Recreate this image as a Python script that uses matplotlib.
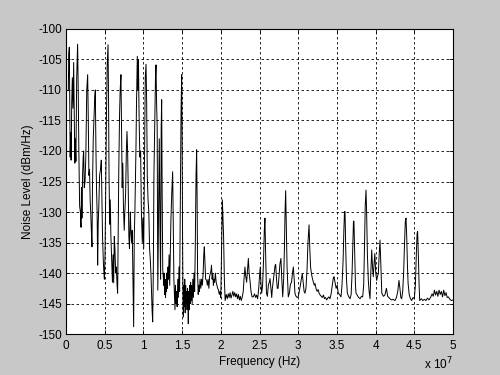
import numpy as np
import matplotlib
matplotlib.use('Agg')
import matplotlib.pyplot as plt
from matplotlib.ticker import FuncFormatter, MultipleLocator

# Спектр шума: частота в единицах 1e7 Гц, уровень в дБм/Гц
# участок 1: 0 ... 1.0
freq_1 = [0.030, 0.036, 0.043, 0.048, 0.054, 0.060, 0.066, 0.074, 0.082, 0.090,
          0.099, 0.106, 0.114, 0.120, 0.128, 0.138, 0.150, 0.158, 0.166, 0.176,
          0.186, 0.194, 0.200, 0.206, 0.214, 0.222, 0.228, 0.236, 0.246, 0.256,
          0.268, 0.280, 0.288, 0.296, 0.304, 0.312, 0.322, 0.330, 0.336, 0.342,
          0.352, 0.364, 0.372, 0.379, 0.386, 0.394, 0.402, 0.409, 0.416, 0.424,
          0.434, 0.446, 0.456, 0.464, 0.472, 0.482, 0.490, 0.496, 0.504, 0.512,
          0.522, 0.532, 0.543, 0.550, 0.556, 0.564, 0.572, 0.580, 0.590, 0.600,
          0.608, 0.616, 0.624, 0.632, 0.642, 0.650, 0.660, 0.667, 0.674, 0.682,
          0.692, 0.700, 0.710, 0.718, 0.726, 0.734, 0.742, 0.752, 0.760, 0.770,
          0.780, 0.788, 0.796, 0.804, 0.812, 0.820, 0.831, 0.838, 0.848, 0.856,
          0.866, 0.874, 0.882, 0.890, 0.898, 0.904, 0.910, 0.921, 0.928, 0.936,
          0.944, 0.954, 0.964, 0.974, 0.986, 0.994, 1.004]
level_1 = [-110, -104, -103, -112, -121, -117, -121.5, -112, -108, -113,
           -105.5, -114, -122, -118, -121.7, -108, -102.5, -110, -120, -129,
           -130, -132.5, -126, -131, -124, -121, -120, -126, -125, -121,
           -110, -107.5, -115, -124, -123, -128, -131, -134, -135.7, -126,
           -118, -114, -111, -110, -119, -126, -130, -138.7, -132, -129,
           -124, -123, -121.5, -128, -134, -138, -140, -141, -137, -128,
           -115, -106, -102.6, -112, -124, -132, -128, -134, -138, -141.5,
           -137, -141.6, -134, -136, -140, -139, -142, -143.3, -134, -123,
           -114, -110, -107.5, -116, -126, -122, -129, -133, -130, -127,
           -120, -116.8, -120, -126, -134, -136, -130, -133, -135, -133,
           -142, -148.8, -134, -130, -124, -119.5, -113, -104.5, -110, -105,
           -114, -121, -120, -130, -135, -131, -136]

# участок 2: 1.0 ... 2.06
freq_2 = [1.012, 1.024, 1.034, 1.042, 1.050, 1.060, 1.070, 1.080, 1.090, 1.100,
          1.112, 1.120, 1.128, 1.136, 1.146, 1.156, 1.163, 1.170, 1.178, 1.186,
          1.196, 1.205, 1.214, 1.222, 1.230, 1.236, 1.242, 1.250, 1.257, 1.262,
          1.268, 1.274, 1.280, 1.286, 1.292, 1.298, 1.304, 1.310, 1.318, 1.324,
          1.332, 1.340, 1.348, 1.356, 1.366, 1.378, 1.386, 1.394, 1.402, 1.408,
          1.414, 1.420, 1.428, 1.436, 1.444, 1.452, 1.460, 1.468, 1.476, 1.486,
          1.494, 1.500, 1.506, 1.512, 1.516, 1.522, 1.528, 1.534, 1.540, 1.546,
          1.552, 1.558, 1.564, 1.570, 1.576, 1.580, 1.586, 1.592, 1.598, 1.604,
          1.610, 1.616, 1.622, 1.630, 1.638, 1.646, 1.654, 1.662, 1.670, 1.680,
          1.688, 1.694, 1.700, 1.708, 1.716, 1.724, 1.732, 1.742, 1.752, 1.762,
          1.772, 1.780, 1.787, 1.794, 1.804, 1.817, 1.826, 1.836, 1.846, 1.856,
          1.866, 1.874, 1.880, 1.888, 1.896, 1.904, 1.912, 1.920, 1.930, 1.940,
          1.950, 1.960, 1.970, 1.980, 1.990, 2.000, 2.010, 2.020, 2.028, 2.036,
          2.046, 2.056]
level_2 = [-124, -108, -105.8, -112, -124, -128, -130, -136, -138, -141,
           -146, -148, -140, -124, -116, -108, -105.9, -112, -116, -142.8,
           -130, -118, -132, -141, -116, -111.6, -126, -139.5, -140.6, -142,
           -140, -143.5, -141, -144, -141.5, -143, -140, -142.5, -139, -141,
           -137, -142, -136, -131, -127, -123.4, -132, -141, -144, -146,
           -142, -145, -143, -145.5, -141, -144, -139, -143, -130, -114,
           -107.5, -116.6, -134, -145, -147.2, -142, -145.5, -141, -146.5, -142,
           -145, -143, -146, -142.5, -145.5, -148.3, -143, -146, -142, -145,
           -141.5, -144.5, -142, -145, -141, -144, -140, -143, -136, -124,
           -119.8, -128, -140, -143.5, -142, -143, -141, -142.5, -141, -142,
           -140, -137, -135.7, -138, -141, -141.2, -142, -141, -142.5, -140.5,
           -140, -139.5, -138.7, -141, -140, -142, -141, -141.5, -140, -141.5,
           -142, -142.5, -142.8, -143.5, -143, -144, -136, -128, -131, -134,
           -141, -144.5]

# участок 3: 2.07 ... 5.0
freq_3 = [2.070, 2.084, 2.096, 2.108, 2.120, 2.132, 2.144, 2.156, 2.168, 2.180,
          2.192, 2.204, 2.216, 2.228, 2.240, 2.252, 2.264, 2.276, 2.290, 2.300,
          2.312, 2.322, 2.334, 2.346, 2.356, 2.366, 2.377, 2.390, 2.404, 2.420,
          2.436, 2.450, 2.462, 2.476, 2.490, 2.500, 2.510, 2.518, 2.528, 2.540,
          2.552, 2.562, 2.570, 2.578, 2.590, 2.602, 2.614, 2.626, 2.636, 2.648,
          2.658, 2.666, 2.676, 2.690, 2.700, 2.709, 2.720, 2.730, 2.740, 2.752,
          2.764, 2.777, 2.788, 2.800, 2.812, 2.822, 2.830, 2.838, 2.846, 2.856,
          2.872, 2.886, 2.900, 2.914, 2.926, 2.937, 2.948, 2.958, 2.972, 2.986,
          3.000, 3.014, 3.028, 3.040, 3.053, 3.064, 3.076, 3.088, 3.100, 3.114,
          3.126, 3.140, 3.150, 3.160, 3.170, 3.182, 3.196, 3.208, 3.217, 3.230,
          3.244, 3.258, 3.270, 3.284, 3.298, 3.312, 3.326, 3.340, 3.354, 3.368,
          3.382, 3.396, 3.410, 3.424, 3.440, 3.454, 3.463, 3.476, 3.490, 3.504,
          3.518, 3.534, 3.553, 3.566, 3.580, 3.590, 3.598, 3.605, 3.614, 3.624,
          3.635, 3.650, 3.670, 3.684, 3.696, 3.706, 3.714, 3.720, 3.730, 3.740,
          3.747, 3.762, 3.780, 3.800, 3.818, 3.833, 3.846, 3.856, 3.866, 3.876,
          3.884, 3.894, 3.906, 3.916, 3.928, 3.938, 3.950, 3.960, 3.970, 3.980,
          3.990, 4.002, 4.014, 4.025, 4.035, 4.046, 4.057, 4.068, 4.080, 4.100,
          4.120, 4.140, 4.156, 4.170, 4.186, 4.205, 4.225, 4.250, 4.270, 4.286,
          4.302, 4.314, 4.326, 4.337, 4.350, 4.362, 4.374, 4.384, 4.393, 4.402,
          4.412, 4.420, 4.434, 4.450, 4.466, 4.484, 4.500, 4.514, 4.526, 4.536,
          4.543, 4.552, 4.562, 4.570, 4.590, 4.610, 4.630, 4.650, 4.670, 4.690,
          4.710, 4.730, 4.745, 4.760, 4.775, 4.790, 4.805, 4.820, 4.835, 4.850,
          4.865, 4.880, 4.895, 4.910, 4.925, 4.940, 4.960, 4.980, 5.000]
level_3 = [-143.5, -144.2, -143.4, -144.0, -143.2, -144.1, -143.6, -143.0, -143.8, -143.2,
           -143.9, -143.4, -144.2, -143.5, -144.4, -143.8, -144.5, -144.0, -143.0, -141.0,
           -139.0, -140.5, -141.5, -139.5, -137.6, -140.0, -141.2, -143.0, -143.9, -143.9,
           -143.4, -144.0, -143.6, -144.2, -142.5, -140.5, -139.0, -141.5, -143.3, -142.0,
           -138.0, -133.0, -131.0, -136.0, -143.3, -143.8, -142.0, -141.5, -140.9, -142.5,
           -144.0, -142.5, -141.5, -140.0, -138.8, -138.6, -141.0, -142.5, -142.5, -140.5,
           -138.5, -137.6, -141.0, -143.9, -141.0, -136.0, -130.0, -126.5, -132.0, -139.0,
           -143.9, -143.3, -141.8, -141.5, -140.0, -139.0, -141.0, -143.3, -143.8, -144.0,
           -143.9, -143.0, -142.0, -141.0, -140.1, -141.5, -143.0, -143.3, -142.5, -139.5,
           -135.0, -132.1, -136.0, -139.0, -140.0, -140.8, -141.5, -142.0, -141.7, -142.5,
           -143.0, -142.7, -143.3, -143.6, -143.8, -144.0, -143.6, -144.2, -144.0, -144.4,
           -144.1, -143.9, -144.2, -143.5, -142.0, -140.8, -140.6, -141.5, -142.5, -142.0,
           -143.3, -143.5, -143.9, -142.0, -138.0, -133.0, -130.0, -129.9, -136.0, -141.0,
           -143.3, -143.8, -144.2, -143.5, -140.0, -135.0, -131.5, -131.5, -137.0, -142.0,
           -143.3, -143.6, -144.0, -144.2, -143.8, -143.9, -142.0, -136.0, -129.0, -126.4,
           -130.0, -137.0, -141.2, -143.0, -144.2, -140.0, -136.2, -139.0, -140.6, -138.5,
           -136.8, -140.0, -141.2, -140.5, -140.1, -137.0, -134.6, -139.0, -143.3, -143.8,
           -143.6, -142.5, -143.8, -144.0, -144.2, -144.4, -144.3, -144.5, -144.0, -143.0,
           -141.2, -142.5, -144.0, -144.2, -143.0, -140.0, -135.0, -131.5, -131.0, -134.0,
           -139.0, -141.7, -143.5, -144.2, -144.5, -144.0, -144.2, -142.0, -137.0, -133.5,
           -133.2, -137.0, -142.0, -144.5, -144.2, -144.5, -144.3, -144.5, -144.1, -144.4,
           -144.0, -143.4, -143.8, -142.8, -143.6, -143.0, -143.8, -142.8, -143.5, -143.0,
           -143.9, -142.8, -143.7, -143.2, -144.0, -143.9, -144.3, -144.5, -144.4]

x_ticks = [0, 0.5, 1, 1.5, 2, 2.5, 3, 3.5, 4, 4.5, 5]

freq = np.array(freq_1 + freq_2 + freq_3) * 1e7
level = np.array(level_1 + level_2 + level_3)

plt.rcParams['font.family'] = ['Liberation Sans', 'DejaVu Sans']
plt.rcParams['axes.unicode_minus'] = False  # обычный дефис, как в MATLAB

fig = plt.figure(figsize=(5, 3.75), dpi=100, facecolor='#c8c8c8')
ax = fig.add_axes([0.132, 0.109, 0.774, 0.814])
ax.set_facecolor('white')

ax.plot(freq, level, color='black', linewidth=0.7)

ax.set_xlim(0, 5e7)
ax.set_ylim(-150, -100)
ax.set_xticks([t * 1e7 for t in x_ticks])
ax.xaxis.set_major_formatter(FuncFormatter(lambda v, p: f'{v / 1e7:g}'))
ax.yaxis.set_major_locator(MultipleLocator(5))

ax.grid(True, color='black', linestyle=(0, (3, 3)), linewidth=0.6)
ax.tick_params(direction='in', length=3, width=0.6, labelsize=8.5, colors='black')
ax.tick_params(axis='y', pad=3)
ax.tick_params(axis='x', pad=4)
ax.tick_params(top=True, right=True)
for s in ax.spines.values():
    s.set_linewidth(0.8)
    s.set_color('black')

ax.set_xlabel('Frequency (Hz)', fontsize=8.5, labelpad=3)
ax.set_ylabel('Noise Level (dBm/Hz)', fontsize=8.5, labelpad=3)
fig.text(0.906, 0.015, r'x 10$^{7}$', ha='right', va='baseline', fontsize=8.5)

fig.savefig('out.png', dpi=100, facecolor=fig.get_facecolor())
